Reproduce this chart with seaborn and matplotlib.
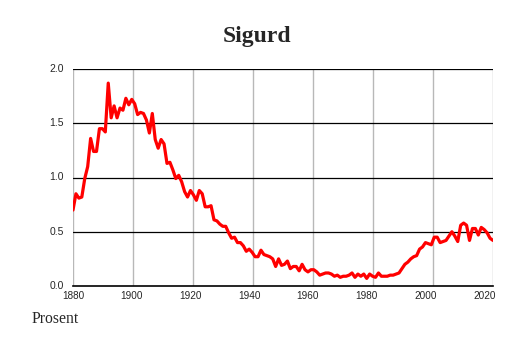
import numpy as np
import pandas as pd
import matplotlib
matplotlib.use("Agg")
import matplotlib.pyplot as plt
import seaborn as sns

years = list(range(1880, 2024))
percent = [
    0.70, 0.85, 0.81, 0.82, 0.99, 1.10, 1.36, 1.24, 1.24, 1.45,   # 1880-1889
    1.45, 1.42, 1.87, 1.55, 1.66, 1.55, 1.64, 1.62, 1.73, 1.67,   # 1890-1899
    1.72, 1.68, 1.58, 1.60, 1.59, 1.53, 1.41, 1.59, 1.35, 1.27,   # 1900-1909
    1.35, 1.31, 1.13, 1.14, 1.07, 0.99, 1.02, 0.96, 0.87, 0.82,   # 1910-1919
    0.88, 0.84, 0.79, 0.88, 0.85, 0.73, 0.73, 0.74, 0.61, 0.60,   # 1920-1929
    0.57, 0.55, 0.55, 0.49, 0.44, 0.45, 0.40, 0.40, 0.37, 0.32,   # 1930-1939
    0.34, 0.31, 0.27, 0.27, 0.33, 0.29, 0.28, 0.27, 0.25, 0.18,   # 1940-1949
    0.25, 0.19, 0.20, 0.23, 0.16, 0.18, 0.18, 0.14, 0.20, 0.15,   # 1950-1959
    0.13, 0.15, 0.15, 0.13, 0.10, 0.11, 0.12, 0.12, 0.11, 0.09,   # 1960-1969
    0.10, 0.08, 0.09, 0.09, 0.10, 0.12, 0.08, 0.11, 0.09, 0.11,   # 1970-1979
    0.07, 0.11, 0.09, 0.08, 0.12, 0.09, 0.09, 0.09, 0.10, 0.10,   # 1980-1989
    0.11, 0.12, 0.16, 0.20, 0.22, 0.25, 0.27, 0.28, 0.34, 0.36,   # 1990-1999
    0.40, 0.39, 0.38, 0.45, 0.45, 0.40, 0.41, 0.42, 0.46, 0.50,   # 2000-2009
    0.46, 0.41, 0.56, 0.58, 0.56, 0.42, 0.53, 0.53, 0.47, 0.54,   # 2010-2019
    0.52, 0.49, 0.44, 0.42,                                       # 2020-2023
]
x_ticks = [1880, 1900, 1920, 1940, 1960, 1980, 2000, 2020]
y_ticks = [0.0, 0.5, 1.0, 1.5, 2.0]
title = "Sigurd"
ylabel = "Prosent"

df = pd.DataFrame({"year": years, "percent": percent})

sns.set_style("white")
plt.rcParams["font.family"] = ["Liberation Sans", "DejaVu Sans"]

fig = plt.figure(figsize=(5.14, 3.43), dpi=100)
ax = fig.add_axes([73 / 514, 1 - 286 / 343, 420 / 514, 217 / 343])

sns.lineplot(data=df, x="year", y="percent", ax=ax, color="#ff0000",
             linewidth=2.3, zorder=3)

ax.set_xlim(years[0], years[-1])
ax.set_ylim(0, 2.0)

# vertical grid: evenly spaced across the plot width
xmin, xmax = ax.get_xlim()
for xv in np.linspace(xmin, xmax, len(x_ticks)):
    ax.axvline(xv, color="#b8b8b8", linewidth=1.0, zorder=1)
for yv in y_ticks[1:]:
    ax.axhline(yv, color="black", linewidth=0.9, zorder=2)

ax.set_xticks(x_ticks)
ax.set_xticklabels([str(t) for t in x_ticks], fontsize=7.2)
ax.set_xticks(list(range(1885, 2024, 5)), minor=True)
ax.set_yticks(y_ticks)
ax.set_yticklabels([f"{t:.1f}" for t in y_ticks], fontsize=7.5)
ax.tick_params(axis="x", which="major", length=0, pad=3.5)
ax.tick_params(axis="x", which="minor", direction="in", length=2.5,
               width=0.6, color="#444444")
ax.tick_params(axis="y", length=0, pad=6.5)
for lab in ax.get_yticklabels():
    lab.set_verticalalignment("center")

for s in ["top", "right", "left"]:
    ax.spines[s].set_visible(False)
ax.spines["bottom"].set_color("black")
ax.spines["bottom"].set_linewidth(1.2)
ax.spines["bottom"].set_zorder(4)
ax.set_xlabel("")
ax.set_ylabel("")

fig.text(256.7 / 514, 1 - 41.7 / 343, title, ha="center", va="baseline",
         fontsize=17, fontweight="bold", family="Liberation Serif")
fig.text(31.7 / 514, 1 - 322.7 / 343, ylabel, ha="left", va="baseline",
         fontsize=11.3, family="Liberation Serif")

fig.savefig("out.png", dpi=100)
